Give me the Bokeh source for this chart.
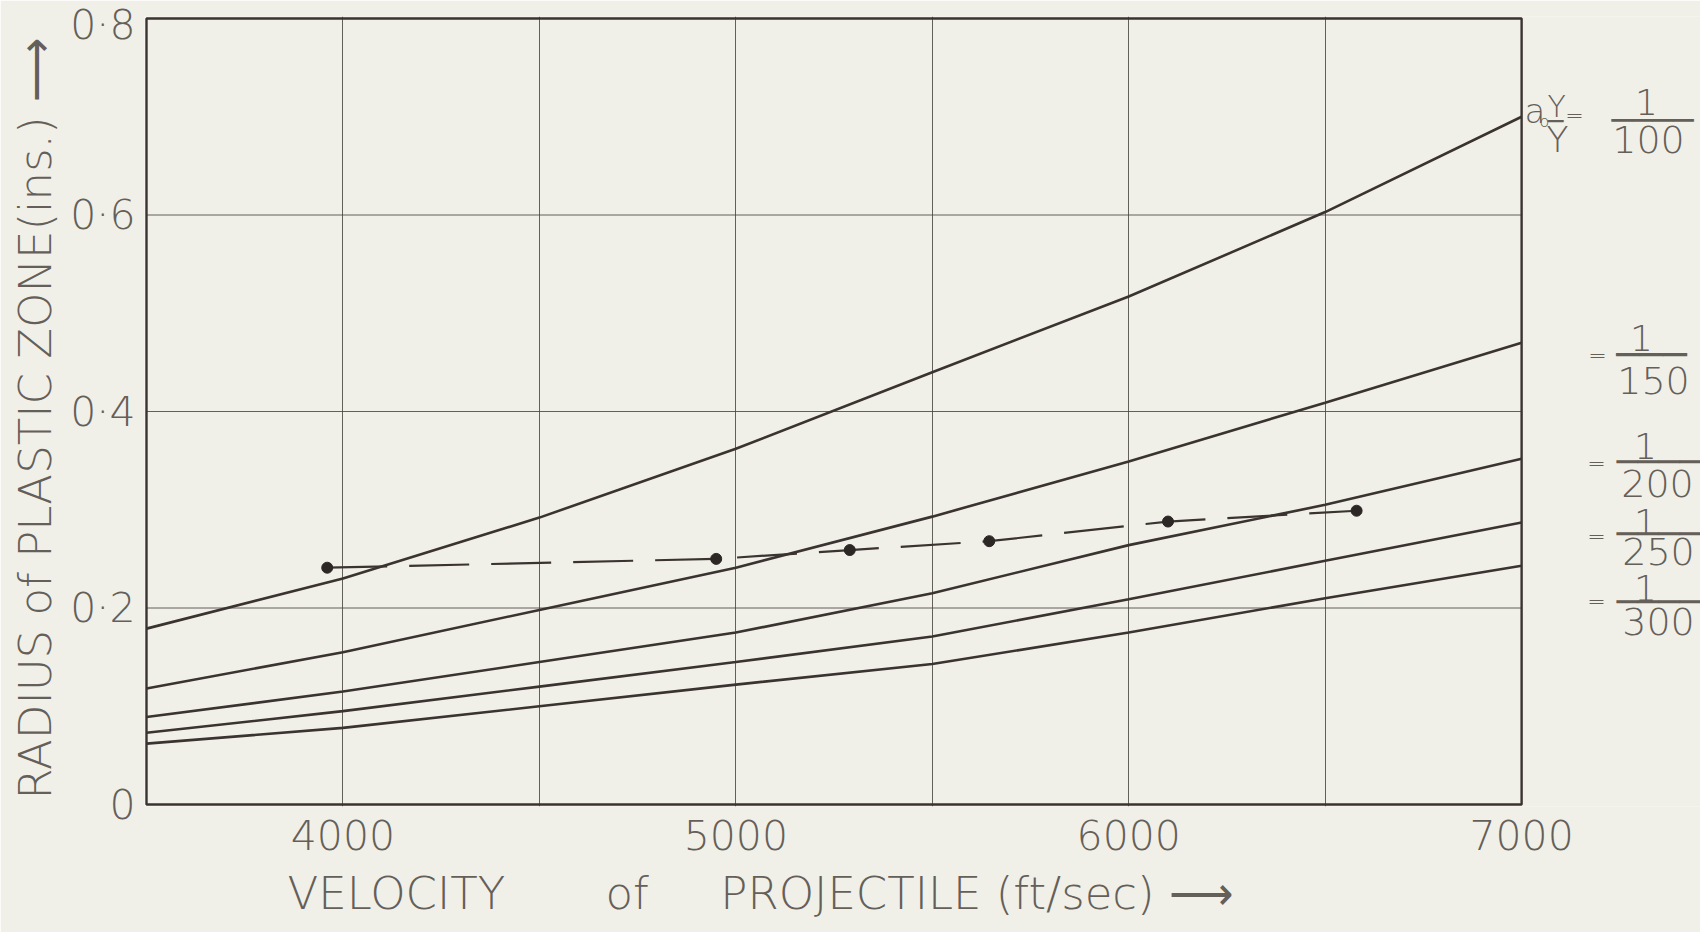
from bokeh.plotting import figure
from bokeh.models import FixedTicker, Label, Range1d, Title
from bokeh.embed import file_html
from bokeh.resources import INLINE

# ---------------- data ----------------
velocity = [3500, 4000, 4500, 5000, 5500, 6000, 6500, 7000]
r_100 = [0.179, 0.230, 0.292, 0.362, 0.440, 0.517, 0.603, 0.700]
r_150 = [0.118, 0.155, 0.198, 0.241, 0.293, 0.349, 0.409, 0.470]
r_200 = [0.089, 0.115, 0.145, 0.175, 0.215, 0.264, 0.305, 0.352]
r_250 = [0.073, 0.095, 0.120, 0.145, 0.171, 0.209, 0.248, 0.287]
r_300 = [0.062, 0.078, 0.100, 0.122, 0.143, 0.175, 0.210, 0.243]

exp_velocity = [3960, 4950, 5290, 5645, 6100, 6580]
exp_radius = [0.241, 0.250, 0.259, 0.268, 0.288, 0.299]

x_ticks = [4000, 5000, 6000, 7000]
x_grid = [4000, 4500, 5000, 5500, 6000, 6500]
y_ticks = [0, 0.2, 0.4, 0.6, 0.8]
y_tick_labels = ["0", "0·2", "0·4", "0·6", "0·8"]
y_grid = [0.2, 0.4, 0.6]
denominators = ["100", "150", "200", "250", "300"]

# ---------------- styling ----------------
BG = "#f1f0e8"
INK = "#3a3330"
TXT = "#655f59"
FONT = "DejaVu Sans Light"
MONO = "DejaVu Sans Mono"
NB = "\u00a0"

W, H = 1700, 932
FL, FR, FT, FB = 145, 1521, 18, 804       # page px of 3500, 7000, 0.8, 0
PAD = 2                                    # so the chart box is not clipped
xs = (velocity[-1] - velocity[0]) / (FR - FL)
ys = (y_ticks[-1] - y_ticks[0]) / (FB - FT)

p = figure(width=W, height=H, output_backend="svg", toolbar_location=None,
           x_range=Range1d(velocity[0] - PAD * xs, velocity[0] + (W - FL) * xs),
           y_range=Range1d(y_ticks[0] - PAD * ys, y_ticks[-1] + PAD * ys),
           min_border_left=FL - PAD, min_border_right=0,
           min_border_top=FT - PAD, min_border_bottom=H - FB - PAD)
p.background_fill_color = BG
p.border_fill_color = BG
p.outline_line_color = None

for ax in (p.xaxis, p.yaxis):
    ax.axis_line_color = None
    ax.major_tick_line_color = None
    ax.minor_tick_line_color = None
    ax.major_label_text_color = TXT
    ax.major_label_text_font = FONT
    ax.major_label_text_font_size = "41px"

p.xaxis.ticker = FixedTicker(ticks=x_ticks)
p.xaxis.major_label_standoff = 7
p.yaxis.ticker = FixedTicker(ticks=y_ticks)
p.yaxis.major_label_overrides = {t: s for t, s in zip(y_ticks, y_tick_labels)}
p.yaxis.major_label_standoff = 3

# axis titles as side titles, anchored at their starting end
p.add_layout(Title(text="RADIUS of PLASTIC ZONE(ins.) \u27f6",
                   align="left", offset=7, text_font=FONT, text_font_size="45px",
                   text_font_style="normal", text_color=TXT, standoff=12), "left")
p.add_layout(Title(text="VELOCITY" + NB * 7 + "of" + NB * 5 + "PROJECTILE (ft/sec) \u27f6",
                   align="left", offset=143, text_font=FONT, text_font_size="45px",
                   text_font_style="normal", text_color=TXT, standoff=25), "below")

# grid: vertical lines from the axis grid, horizontal lines limited to the chart box
p.xgrid.ticker = FixedTicker(ticks=x_grid)
p.xgrid.grid_line_color = "#4a4542"
p.xgrid.grid_line_alpha = 0.85
p.ygrid.visible = False
p.segment(x0=[velocity[0]] * len(y_grid), x1=[velocity[-1]] * len(y_grid),
          y0=y_grid, y1=y_grid, line_color="#4a4542", line_alpha=0.85, line_width=1)

# chart box
p.quad(left=[velocity[0]], right=[velocity[-1]], bottom=[y_ticks[0]], top=[y_ticks[-1]],
       fill_color=None, line_color=INK, line_width=2.4)

for series in (r_100, r_150, r_200, r_250, r_300):
    p.line(velocity, series, line_color=INK, line_width=2.6)

p.line(exp_velocity, exp_radius, line_color=INK, line_width=2.2, line_dash="60 22")
p.scatter(exp_velocity, exp_radius, size=11, color="#2c2725")


# ---------------- annotation text placed in page pixels ----------------
def X(px):
    return velocity[0] + (px - FL) * xs


def Y(py):
    return y_ticks[0] + (FB - py) * ys


def txt(s, px, py, size, align="center", font=FONT):
    p.add_layout(Label(x=X(px), y=Y(py), text=s, text_font=font,
                       text_font_size=f"{size}px", text_color=TXT,
                       text_align=align, text_baseline="middle"))


# a_o Y / Y
txt("a", 1524, 110, 34, align="left")
txt("o", 1539, 121, 16, align="left")
txt("Y", 1547, 106, 30, align="left")
txt("\u2500", 1555, 120, 26, font=MONO)
txt("Y", 1557, 139, 36)

rows = [
    # eq_x, eq_y, one_x, one_y, bar_x, bar_y, bar_chars, bar_size, den_x, den_y
    (1574, 115, 1646, 101, 1652, 119, 4, 34, 1648, 139),
    (1597, 355, 1641, 337, 1651, 354, 3, 39, 1653, 380),
    (1596, 463, 1645, 445, 1658, 461, 4, 35, 1657, 483),
    (1596, 536, 1645, 521, 1658, 533, 4, 35, 1658, 551),
    (1596, 601, 1645, 587, 1658, 601, 4, 35, 1658, 621),
]
for den, (ex, ey, ox, oy, bx, by, bn, bs, dx, dy) in zip(denominators, rows):
    txt("=", ex, ey, 22)
    txt("1", ox, oy, 36)
    txt("\u2500" * bn, bx, by, bs, font=MONO)
    txt(den, dx, dy, 38)

open("out.html", "w").write(file_html(p, INLINE))
